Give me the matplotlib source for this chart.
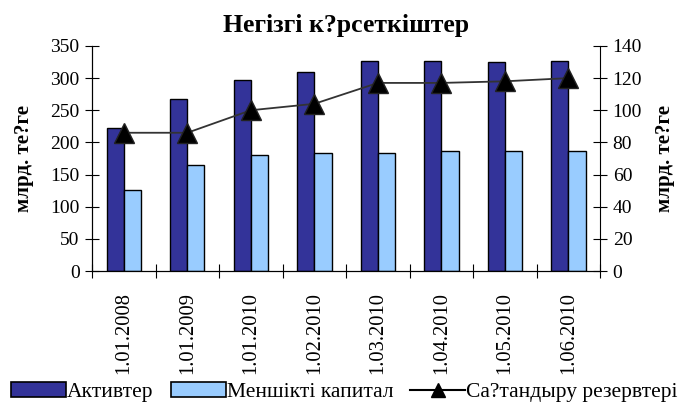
import numpy as np
import matplotlib.pyplot as plt
from matplotlib.lines import Line2D
from matplotlib.patches import Patch

plt.rcParams['font.family'] = ['Liberation Serif', 'DejaVu Serif']
plt.rcParams['font.serif'] = ['Liberation Serif', 'DejaVu Serif']

dates = ['1.01.2008', '1.01.2009', '1.01.2010', '1.02.2010',
         '1.03.2010', '1.04.2010', '1.05.2010', '1.06.2010']
aktivter = [222, 267, 297, 309, 327, 327, 325, 327]          # left axis
kapital = [126, 165, 181, 184, 184, 187, 187, 187]           # left axis
rezerv = [86, 86, 100, 104, 117, 117, 118, 120]              # right axis

dark = '#333399'
light = '#99ccff'

fig = plt.figure(figsize=(6.82, 4.03), dpi=100)
ax = fig.add_axes([0.135, 0.3275, 0.745, 0.5585])
ax2 = ax.twinx()

x = np.arange(len(dates)) + 0.5
w = 0.27
ax.bar(x - w / 2, aktivter, w, color=dark, edgecolor='black', linewidth=1)
ax.bar(x + w / 2, kapital, w, color=light, edgecolor='black', linewidth=1)
ax2.plot(x, rezerv, color='#333333', linewidth=1.3, marker='^',
         markersize=14, markerfacecolor='black', markeredgecolor='#222222')

ax.set_xlim(0, len(dates))
ax.set_ylim(0, 350)
ax2.set_ylim(0, 140)
ax.set_yticks(np.arange(0, 351, 50))
ax2.set_yticks(np.arange(0, 141, 20))

# category boundaries as ticks, labels in the middle
ax.set_xticks(np.arange(len(dates) + 1))
ax.set_xticklabels([])
ax.set_xticks(x, minor=True)
ax.set_xticklabels(dates, minor=True, rotation=90, fontsize=14.8)
ax.tick_params(axis='x', which='major', direction='inout', length=10, width=0.8)
ax.tick_params(axis='x', which='minor', length=0, pad=15)
ax.tick_params(axis='y', direction='inout', length=10, width=0.8, labelsize=14, pad=4)
ax2.tick_params(axis='y', direction='inout', length=10, width=0.8, labelsize=14, pad=4)

for a in (ax, ax2):
    a.spines['top'].set_visible(False)
ax.spines['right'].set_visible(False)

ax.set_ylabel('млрд. те?ге', fontsize=15, fontweight='bold', labelpad=12)
ax2.set_ylabel('млрд. те?ге', fontsize=15, fontweight='bold', rotation=90, labelpad=9)
ax.set_title('Негізгі к?рсеткіштер', fontsize=18.5, fontweight='bold', pad=10)

handles = [Patch(facecolor=dark, edgecolor='black', linewidth=1.2),
           Patch(facecolor=light, edgecolor='black', linewidth=1.2),
           Line2D([], [], color='black', marker='^', markersize=10)]
labels = ['Активтер', 'Меншікті капитал', 'Са?тандыру резервтері']
fig.legend(handles, labels, loc='center', bbox_to_anchor=(0.505, 0.027), ncol=3,
           frameon=False, fontsize=15.5, handlelength=2.55, handleheight=0.65,
           handletextpad=0.05, columnspacing=0.8, borderaxespad=0, borderpad=0)

fig.savefig('out.png', dpi=100)
